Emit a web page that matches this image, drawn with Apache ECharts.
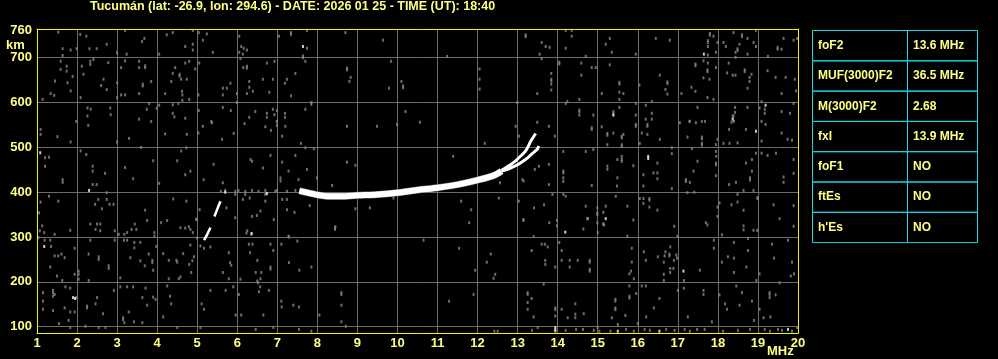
<!DOCTYPE html>
<html><head><meta charset="utf-8">
<script src="https://cdn.jsdelivr.net/npm/echarts@6/dist/echarts.min.js"></script>
<style>html,body{margin:0;padding:0;background:#000;}#c{width:998px;height:359px;}</style>
</head><body><div id="c"></div>
<script>
const titleText = 'Tucumán (lat: -26.9, lon: 294.6) - DATE: 2026 01 25 - TIME (UT): 18:40';
const freqMin = 1, freqMax = 20;
const heightMin = 86, heightMax = 764;
const yLabelValues = [100, 200, 300, 400, 500, 600, 700, 760];
const tableLabels = ['foF2', 'MUF(3000)F2', 'M(3000)F2', 'fxI', 'foF1', 'ftEs', "h'Es"];
const tableValues = ['13.6 MHz', '36.5 MHz', '2.68', '13.9 MHz', 'NO', 'NO', 'NO'];

// F2 trace (freq MHz, virtual height km)
const traceMain = [[7.55,403],[7.8,398],[8.0,394],[8.3,391],[8.6,391],[9.0,393],[9.5,395],[10.0,399],[10.5,405],[11.0,410],[11.5,417],[12.0,427],[12.4,437],[12.6,447]];
const traceUpper = [[12.6,449],[12.83,462],[12.95,470],[13.08,481],[13.2,492],[13.28,505],[13.33,514],[13.45,531]];
const traceLower = [[12.6,447],[12.75,451],[12.9,457],[13.03,463],[13.15,470],[13.28,479],[13.39,488],[13.49,496],[13.53,503]];
const segLowA = [[5.17,293],[5.25,306],[5.33,321]];
const segLowB = [[5.43,346],[5.5,362],[5.58,380]];

const whiteSpecks = [[7.64,725],[17.65,708],[15.39,572],[18.37,563],[19.19,594],[18.95,536],[16.26,480],[16.26,475],[15.2,341],[14.19,311],[1.18,279],[6.36,308],[1.9,165],[1.95,163],[1.08,488],[2.3,404],[6.74,397],[5.7,400],[17.14,224],[13.94,98],[13.94,92],[15.5,90],[16.54,90],[19.75,94]];

const graySpecks = [
[1.53,757],[1.64,720],[1.84,717],[1.99,720],[1.64,705],[1.59,692],[1.59,674],[1.74,681],[1.74,670],[1.89,658],[1.45,648],[1.76,644],[1.84,626],[1.34,620],[1.43,616],[1.14,607],[1.09,540],[1.09,529],[1.2,477],[1.2,458],[1.3,478],[1.51,524],[1.84,512],[1.64,428],[1.64,422],[1.09,378],[1.3,391],[1.53,380],[1.05,354],
[2.08,752],[2.23,748],[2.31,720],[2.49,720],[2.41,696],[2.33,692],[2.12,681],[2.33,685],[2.16,663],[2.78,689],[2.74,730],[2.66,652],[2.6,638],[2.74,629],[3.0,644],[3.0,711],[2.09,611],[2.26,588],[2.34,585],[2.83,588],[2.84,573],[2.26,570],[3.0,611],[1.98,558],[2.28,549],[2.09,492],[2.23,484],[2.39,458],[2.39,447],[2.39,417],[2.49,417],[2.74,399],[2.74,384],[2.53,384],[2.45,373],[2.62,363],[2.81,373],[3.0,512],[2.91,373],[2.7,442],
[3.2,761],[4.24,751],[4.39,756],[4.89,761],[5.04,756],[5.24,753],[5.14,739],[3.62,736],[3.68,743],[3.24,708],[4.05,708],[4.7,725],[4.89,730],[4.89,717],[5.39,712],[6.05,748],[6.1,725],[6.16,721],[6.24,717],[6.05,712],[6.14,708],[6.08,698],[7.34,756],[7.34,752],[7.74,761],[7.04,748],[7.74,721],[7.64,704],[7.64,700],[8.7,756],[9.64,739],[11.24,703],
[3.2,693],[3.55,692],[3.7,682],[3.7,678],[3.1,678],[3.55,678],[4.45,678],[4.7,688],[4.8,692],[4.95,675],[5.05,688],[4.39,665],[4.56,663],[4.56,659],[4.6,652],[4.74,652],[4.35,647],[3.85,647],[3.64,641],[3.64,637],[6.15,678],[6.24,681],[6.24,677],[6.74,688],[6.93,692],[7.7,692],[7.45,665],[7.24,652],[7.19,643],[6.89,652],[6.64,652],[6.3,647],[6.3,634],[6.39,625],[6.24,620],[6.8,623],[7.34,615],[5.83,643],[5.74,632],[5.64,632],[5.64,617],[5.99,620],[8.74,677],[8.74,673],[8.83,656],[8.8,647],[9.84,692],[9.79,632],[10.1,647],[10.14,637],[10.14,633],[4.2,620],[3.55,620],[3.2,617],[3.1,617],[4.62,625],[4.63,617],[4.63,605],[4.8,607],[5.03,617],
[3.8,598],[4.05,594],[3.99,587],[3.74,585],[4.39,595],[4.39,576],[4.43,568],[4.7,565],[3.55,563],[3.85,558],[4.53,598],[5.04,582],[5.64,589],[5.84,582],[5.99,600],[6.45,580],[6.3,567],[6.74,576],[6.74,567],[6.89,585],[6.93,573],[6.99,582],[6.99,558],[7.19,576],[7.19,567],[7.7,585],[7.85,600],[7.85,596],[10.2,580],[5.35,558],
[13.2,751],[13.2,747],[13.6,734],[13.7,725],[13.8,723],[13.55,708],[13.6,698],[14.2,761],[14.35,761],[14.35,748],[14.2,721],[14.7,703],[15.3,743],[15.2,730],[15.35,712],[15.95,708],[16.45,743],[16.8,739],[17.8,754],[17.8,750],[17.89,748],[17.75,738],[17.75,734],[17.75,725],[17.75,706],[17.95,712],[17.99,734],[18.14,734],[18.2,725],[18.39,756],[18.6,751],[18.6,747],[18.74,743],[18.54,730],[18.49,720],[18.49,716],[18.44,712],[18.44,701],[18.74,708],[18.89,734],[18.95,761],[18.95,725],[19.25,703],[19.49,723],[19.49,719],[19.59,719],[19.64,743],[19.89,739],[19.98,743],
[12.05,675],[12.05,652],[12.05,630],[12.99,600],[13.49,620],[13.84,665],[13.84,652],[13.84,648],[13.84,641],[13.84,628],[14.04,690],[14.04,686],[14.59,688],[14.59,661],[14.85,678],[14.95,678],[15.3,684],[15.1,620],[15.54,645],[15.54,641],[15.54,623],[15.64,620],[15.54,607],[16.04,639],[16.55,661],[16.74,646],[16.74,642],[16.69,629],[16.74,619],[17.09,620],[17.34,634],[17.44,625],[17.44,686],[17.44,682],[17.64,693],[17.75,688],[17.74,673],[17.74,669],[17.64,655],[17.79,652],[17.95,678],[17.74,611],[17.89,607],[18.27,688],[18.23,666],[18.37,661],[18.44,661],[18.67,673],[18.67,669],[18.84,663],[18.79,656],[18.79,647],[18.74,632],[19.24,671],[19.44,656],[19.69,656],[19.92,652],[19.95,626],[19.59,620],[14.54,607],[14.24,602],[14.2,598],
[14.54,583],[14.54,579],[14.54,572],[14.89,572],[15.39,580],[15.39,576],[15.54,589],[15.95,598],[15.95,572],[16.2,594],[16.35,602],[16.35,576],[16.2,563],[16.35,563],[17.49,589],[17.29,558],[17.68,558],[18.43,589],[18.43,578],[18.37,570],[18.39,570],[18.4,558],[18.74,589],[19.04,588],[19.09,602],[19.17,585],[19.17,576],[19.59,580],[19.8,576],[19.89,598],
[14.85,544],[14.85,540],[15.1,546],[15.24,531],[15.24,527],[15.39,532],[15.6,525],[15.6,521],[15.64,529],[15.6,506],[15.6,502],[15.24,506],[15.95,551],[15.95,547],[16.24,551],[16.24,547],[16.24,529],[16.1,532],[16.55,518],[16.05,509],[17.05,555],[17.3,558],[17.45,555],[17.6,558],[17.24,523],[17.6,523],[17.6,519],[17.6,509],[17.6,505],[17.35,497],[17.95,506],[17.95,491],[17.96,480],[17.95,465],[17.95,461],[17.99,518],[18.14,509],[18.34,556],[18.28,540],[18.7,540],[18.29,509],[18.49,510],[19.09,558],[19.19,551],[19.09,514],[19.59,532],[19.74,518],[19.85,516],
[14.14,491],[14.7,491],[14.89,495],[15.24,458],[15.24,451],[15.49,473],[15.6,480],[15.6,473],[15.6,469],[15.89,459],[15.49,432],[15.48,414],[14.85,415],[14.14,447],[14.14,443],[14.14,432],[14.14,424],[16.49,465],[16.14,439],[16.39,443],[16.49,443],[16.49,430],[16.14,414],[16.85,486],[16.85,408],[16.85,499],[17.49,469],[17.39,447],[17.2,428],[17.2,424],[17.3,422],[17.24,399],[17.41,400],[17.95,437],[18.28,417],[18.45,422],[18.64,404],[18.7,465],[18.85,473],[18.95,487],[18.85,447],[18.8,432],[18.8,427],[18.89,404],[18.99,386],[19.09,487],[19.24,482],[19.45,487],[19.89,473],[19.64,434],[19.64,422],[19.89,442],
[14.14,395],[14.2,391],[14.7,369],[14.99,365],[14.99,354],[14.99,350],[14.99,332],[15.14,355],[15.2,369],[15.16,327],[14.74,341],[15.45,391],[15.74,369],[15.89,338],[16.14,386],[16.14,375],[16.29,386],[16.29,382],[16.29,367],[16.49,360],[16.05,386],[16.91,324],[16.99,302],[17.7,332],[17.74,327],[17.99,367],[18.04,376],[17.99,346],[18.1,305],[18.34,372],[18.49,395],[18.49,378],[18.64,360],[18.64,325],[18.64,316],[18.89,315],[18.99,388],[19.39,372],[19.54,341],[19.89,370],[19.89,324],[14.64,318],[15.74,302],[14.75,341],[15.14,329],[15.0,310],[18.98,315],
[1.13,325],[1.07,314],[1.03,299],[1.18,310],[1.44,306],[1.83,315],[2.33,329],[2.5,329],[2.58,329],[2.46,317],[2.58,314],[2.94,314],[3.04,306],[3.18,306],[3.25,310],[3.44,329],[3.48,317],[3.36,317],[3.75,337],[4.1,332],[4.25,337],[3.93,310],[3.93,302],[4.58,321],[4.79,323],[4.89,310],[4.98,340],[6.25,314],[7.29,300],[8.44,321],[8.44,317],
[1.35,279],[1.19,293],[1.33,293],[1.53,258],[1.61,262],[1.69,254],[1.44,258],[1.33,233],[1.5,213],[1.63,203],[2.04,224],[2.04,217],[2.04,206],[1.94,217],[1.94,275],[2.29,203],[2.33,293],[2.29,262],[2.54,256],[2.54,250],[2.94,293],[2.79,236],[2.79,230],[3.08,209],[3.17,293],[3.25,293],[3.43,288],[3.43,276],[3.58,288],[3.33,254],[3.58,247],[3.79,262],[3.69,236],[3.88,248],[3.88,243],[3.9,226],[3.98,279],[4.15,263],[4.29,248],[4.48,248],[4.5,244],[4.29,207],[4.58,211],[4.54,207],[4.65,263],[4.83,282],[4.8,239],[4.88,247],[4.92,256],[4.85,221],[5.08,280],[5.17,275],[5.33,278],[5.64,221],[5.79,265],[5.82,243],[5.85,237],[5.79,207],[6.08,206],[6.29,284],[6.38,284],[6.32,265],[6.5,248],[6.46,221],[6.6,221],[6.5,202],[6.58,207],[6.83,284],[6.9,270],[6.83,233],[6.83,228],[7.1,284],[7.29,243],[7.5,291],[7.55,226],[7.85,233],
[1.15,176],[1.4,181],[1.4,176],[1.44,172],[1.71,189],[1.83,186],[1.98,165],[1.4,168],[1.15,157],[1.15,139],[1.4,136],[1.69,142],[1.79,114],[1.83,133],[1.94,133],[2.25,146],[2.25,142],[2.5,165],[2.46,151],[2.65,129],[2.92,181],[3.08,189],[3.25,189],[3.4,189],[3.71,186],[3.9,166],[3.96,161],[3.63,165],[3.75,148],[3.29,133],[3.15,120],[3.15,116],[3.18,109],[3.42,111],[3.63,109],[4.15,122],[4.25,191],[4.32,168],[4.35,151],[5.11,151],[5.17,139],[5.33,181],[5.71,181],[5.9,189],[6.04,172],[5.96,126],[6.1,126],[6.52,198],[6.57,189],[6.54,178],[6.65,126],[6.79,181],[7.1,157],[7.11,144],[7.4,148],[7.54,144],[8.05,126],[8.6,176],[8.6,172],[8.6,148],[8.6,111],[8.71,101],[1.55,107],[1.83,98],[2.21,101],[2.54,98],[2.71,98],[4.5,98],[5.08,98],[6.46,94],[6.9,98],[7.54,94],[7.85,90],
[11.79,332],[10.65,293],[11.54,275],[12.33,262],[12.23,244],[11.94,226],[12.44,217],[12.4,208],[13.15,337],[13.79,332],[13.98,337],[13.98,325],[14.75,341],[15.14,329],
[13.4,301],[13.6,284],[13.68,284],[13.75,278],[13.35,270],[14.04,288],[14.1,270],[13.69,248],[13.69,239],[13.94,233],[14.1,248],[14.3,248],[14.5,248],[14.8,248],[14.8,244],[14.8,228],[14.8,224],[14.3,233],[15.85,275],[16.15,267],[15.85,244],[15.83,224],[15.79,218],[15.9,207],[16.2,248],[16.5,256],[16.67,258],[16.79,262],[16.79,258],[16.69,267],[16.96,260],[16.81,278],[16.65,244],[16.9,248],[16.98,253],[16.81,230],[16.89,230],[16.81,221],[16.65,217],[16.65,203],[17.15,203],[17.55,226],[17.9,293],[17.9,275],[18.1,244],[18.25,256],[18.4,288],[18.4,253],[18.4,221],[18.75,297],[18.75,270],[18.71,233],[18.96,203],[19.04,218],[19.35,284],[19.4,253],[19.75,293],[19.85,244],[19.82,213],[19.9,218],
[11.29,157],[11.9,172],[13.25,176],[13.25,172],[13.25,154],[13.25,139],[13.35,163],[13.4,122],[13.65,195],[13.94,142],[13.94,138],[13.94,124],[14.1,139],[14.25,120],[14.44,151],[14.44,128],[14.65,129],[14.44,120],[15.44,161],[15.44,157],[15.44,142],[15.44,138],[15.35,120],[15.5,105],[15.69,125],[15.79,191],[15.79,168],[15.79,164],[15.96,174],[16.0,107],[16.1,191],[16.2,191],[16.21,122],[16.4,142],[16.54,163],[17.0,181],[17.15,186],[17.25,122],[17.64,181],[17.64,172],[17.85,111],[18.04,171],[18.18,151],[18.23,139],[18.54,148],[18.46,191],[18.6,176],[18.85,157],[18.9,114],[19.04,139],[19.14,120],[19.29,176],[19.29,172],[19.29,165],[19.44,171],[19.31,122],[19.54,198],
[13.94,90],[14.46,94],[14.63,94],[15.0,98],[15.04,90],[15.32,90],[15.71,94],[16.17,94],[16.71,94],[16.92,92],[17.17,94],[17.48,94],[17.67,94],[18.13,90],[19.17,94],[19.5,94],[19.98,98],[12.42,90],[12.5,90],[13.36,92],[13.5,98],[14.2,92],[14.9,92],[15.9,90],[16.3,92],[17.3,90],[18.5,92],[18.8,94],[19.3,90],[19.6,92],[19.85,90],
[4.74,529],[5.14,547],[5.37,555],[5.03,532],[5.91,531],[6.18,553],[6.7,546],[6.84,538],[6.99,558],[6.99,549],[7.2,547],[7.12,525],[7.59,509],[7.7,499],[7.91,497],[5.62,518],[4.73,499],[4.6,492],[5.41,462],[5.64,421],[5.59,402],[6.33,473],[6.37,469],[6.64,454],[6.83,482],[7.12,467],[7.28,447],[7.45,482],[7.74,451],[7.53,428],[7.08,432],[7.08,425],[7.99,432],[8.37,415],[8.74,467],[8.95,460],[4.83,447],[5.16,428],[4.7,439],[4.73,380],[5.06,361],[4.98,339],[4.7,320],[4.83,317],[4.99,298],[5.73,365],[5.95,343],[6.14,384],[6.31,387],[6.58,358],[6.7,380],[6.37,346],[6.49,348],[7.12,384],[7.24,384],[7.24,361],[6.91,339],[7.28,302],[7.43,355],[7.81,370],[8.45,323],[8.95,363],[9.31,365],[9.9,387],[11.59,380],[11.84,361],[12.53,387],[13.03,380],[13.14,339],[13.41,365],[13.66,372],[13.87,395],[13.53,458],[13.78,462],[13.93,525],[13.78,547],[13.03,525],[12.95,547],[13.49,556],[12.18,509],[13.43,451],[13.12,428],[13.15,425],[12.56,421],[13.78,417],[6.23,309],[6.35,306],[8.74,547],[9.49,547],[9.99,551],[10.56,556],[11.39,480],
[5.7,404],[5.95,402],[6.03,404],[6.2,402],[6.37,404],[6.53,402],[6.7,404],[6.95,402],[6.99,404],[7.24,402],[7.45,404],[7.57,402],[5.95,395],[6.2,395],[6.7,395],
[3.3,520],[3.6,500],[3.9,470],[4.2,530],[3.4,430],[4.4,385],[3.7,360],[4.05,420],[3.2,455],[4.5,470]
];

const chart = echarts.init(document.getElementById('c'), null, {renderer: 'canvas'});
const yellowLine = {show: true, lineStyle: {color: '#f2f200', width: 1}};
const labelStyle = {color: '#ffff80', fontFamily: 'Liberation Sans, Arial, sans-serif', fontWeight: 'bold', fontSize: 13};
const grayGrid = {show: true, lineStyle: {color: '#6c6c6c', width: 1}};

const tableTop = 30.5, rowH = 30.3, tLeft = 812.5, tMid = 907.5, tRight = 977.5;
const graphics = [];
tableLabels.forEach((lab, i) => {
  const y = tableTop + i * rowH;
  graphics.push({type: 'rect', shape: {x: tLeft, y: y, width: tMid - tLeft, height: rowH}, style: {fill: 'transparent', stroke: '#1ad6e6', lineWidth: 1}, z: 10});
  graphics.push({type: 'rect', shape: {x: tMid, y: y, width: tRight - tMid, height: rowH}, style: {fill: 'transparent', stroke: '#1ad6e6', lineWidth: 1}, z: 10});
  graphics.push({type: 'text', x: 818, y: y + rowH / 2, style: {text: lab, fill: '#ffff80', font: 'bold 12px "Liberation Sans", Arial, sans-serif', verticalAlign: 'middle'}, z: 11});
  graphics.push({type: 'text', x: 913, y: y + rowH / 2, style: {text: tableValues[i], fill: '#ffff80', font: 'bold 12px "Liberation Sans", Arial, sans-serif', verticalAlign: 'middle'}, z: 11});
});
graphics.push({type: 'text', x: 6, y: 45.5, style: {text: 'km', fill: '#ffff80', font: 'bold 13px "Liberation Sans", Arial, sans-serif', verticalAlign: 'middle'}, z: 11});
graphics.push({type: 'text', x: 767, y: 351.5, style: {text: 'MHz', fill: '#ffff80', font: 'bold 13px "Liberation Sans", Arial, sans-serif', verticalAlign: 'middle'}, z: 11});

const lineBase = {type: 'line', xAxisIndex: 0, yAxisIndex: 0, showSymbol: false, symbol: 'none', smooth: 0.3, silent: true, animation: false};

chart.setOption({
  backgroundColor: '#000000',
  animation: false,
  title: {text: titleText, left: 90, top: 0, textStyle: {color: '#ffff80', fontFamily: 'Liberation Sans, Arial, sans-serif', fontWeight: 'bold', fontSize: 12.5, lineHeight: 14}, padding: 0},
  grid: {left: 37, right: 200, top: 29, bottom: 26, containLabel: false},
  xAxis: [
    {type: 'value', min: freqMin, max: freqMax, interval: 1, position: 'bottom', z: 0, axisLine: {show: false}, axisTick: {show: false}, axisLabel: {show: false}, splitLine: grayGrid},
    {type: 'value', min: freqMin, max: freqMax, interval: 1, position: 'bottom', z: 3, axisLine: yellowLine, axisTick: {show: false}, axisLabel: Object.assign({margin: 4}, labelStyle), splitLine: {show: false}},
    {type: 'value', min: freqMin, max: freqMax, interval: 1, position: 'top', z: 3, axisLine: yellowLine, axisTick: {show: false}, axisLabel: {show: false}, splitLine: {show: false}}
  ],
  yAxis: [
    {type: 'value', min: heightMin, max: heightMax, splitNumber: 7, position: 'left', z: 0, axisLine: {show: false}, axisTick: {show: false}, axisLabel: {show: false}, splitLine: grayGrid},
    {type: 'value', min: heightMin, max: heightMax, position: 'left', z: 3, axisLine: yellowLine, axisTick: {show: false}, axisLabel: Object.assign({margin: 5, customValues: yLabelValues}, labelStyle), splitLine: {show: false}},
    {type: 'value', min: heightMin, max: heightMax, position: 'right', z: 3, axisLine: yellowLine, axisTick: {show: false}, axisLabel: {show: false}, splitLine: {show: false}}
  ],
  graphic: graphics,
  series: [
    {type: 'scatter', xAxisIndex: 0, yAxisIndex: 0, data: graySpecks, symbol: 'rect', symbolSize: [2, 3], itemStyle: {color: '#888888'}, silent: true, animation: false, z: 1},
    {type: 'scatter', xAxisIndex: 0, yAxisIndex: 0, data: whiteSpecks, symbol: 'rect', symbolSize: [2, 3], itemStyle: {color: '#ffffff'}, silent: true, animation: false, z: 2},
    Object.assign({}, lineBase, {data: traceMain, lineStyle: {color: '#777777', width: 7, cap: 'butt'}, z: 2}),
    Object.assign({}, lineBase, {data: traceMain, lineStyle: {color: '#ffffff', width: 6, cap: 'butt'}, z: 3}),
    Object.assign({}, lineBase, {data: traceUpper, lineStyle: {color: '#ffffff', width: 3, cap: 'butt'}, z: 3}),
    Object.assign({}, lineBase, {data: traceLower, lineStyle: {color: '#ffffff', width: 3, cap: 'butt'}, z: 3}),
    Object.assign({}, lineBase, {data: segLowA, lineStyle: {color: '#ffffff', width: 2.5, cap: 'butt'}, z: 3}),
    Object.assign({}, lineBase, {data: segLowB, lineStyle: {color: '#ffffff', width: 2.5, cap: 'butt'}, z: 3})
  ]
});
</script>
</body></html>
